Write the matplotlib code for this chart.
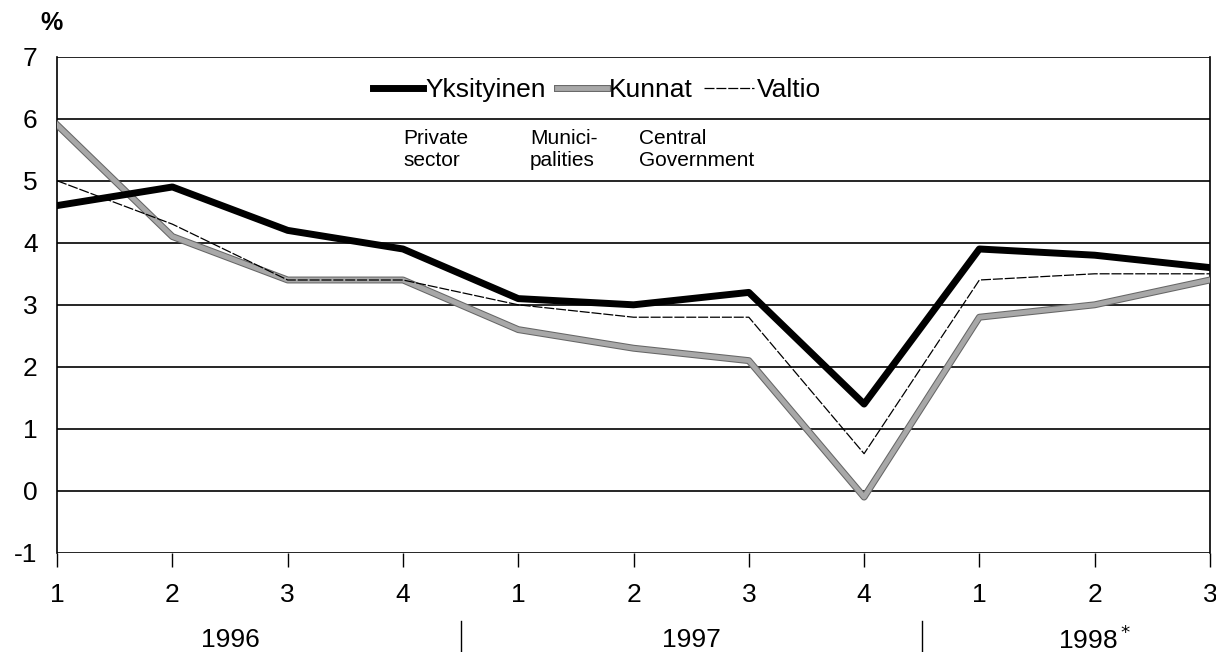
import matplotlib.pyplot as plt
import matplotlib.patheffects as pe

plt.rcParams['font.family'] = ['Liberation Sans', 'DejaVu Sans']

quarters = ['1', '2', '3', '4', '1', '2', '3', '4', '1', '2', '3']
years = ['1996', '1997', '1998$^*$']
year_centers = [1.5, 5.5, 9]
year_breaks = [3.5, 7.5]

yksityinen = [4.6, 4.9, 4.2, 3.9, 3.1, 3.0, 3.2, 1.4, 3.9, 3.8, 3.6]
kunnat = [5.9, 4.1, 3.4, 3.4, 2.6, 2.3, 2.1, -0.1, 2.8, 3.0, 3.4]
valtio = [5.0, 4.3, 3.4, 3.4, 3.0, 2.8, 2.8, 0.6, 3.4, 3.5, 3.5]

x = list(range(len(quarters)))

fig = plt.figure(figsize=(12.16, 6.52), dpi=100)
ax = fig.add_axes([0.047, 0.152, 0.948, 0.761])

for yv in range(-1, 8):
    ax.axhline(yv, color='black', lw=1.2, zorder=1)

# gray "textured" line for municipalities
ax.plot(x, kunnat, color='#a8a8a8', lw=3.5, zorder=3, label='Kunnat',
        path_effects=[pe.Stroke(linewidth=5, foreground='#666666'), pe.Normal()])
ax.plot(x, valtio, color='black', lw=0.9, dashes=(8, 1.5), zorder=4, label='Valtio')
ax.plot(x, yksityinen, color='black', lw=5, zorder=5, label='Yksityinen')

ax.set_xlim(0, 10)
ax.set_ylim(-1, 7)
ax.set_yticks(range(-1, 8))
ax.set_yticklabels([str(v) for v in range(-1, 8)], fontsize=19)
ax.tick_params(axis='y', length=0, pad=14)
ax.set_xticks(x)
ax.set_xticklabels(quarters, fontsize=19)
ax.tick_params(axis='x', direction='out', length=10, width=1, pad=12)

for s in ['left', 'right']:
    ax.spines[s].set_linewidth(1.2)
ax.spines['top'].set_visible(False)
ax.spines['bottom'].set_visible(False)

for xc, yr in zip(year_centers, years):
    ax.text(xc, -2.4, yr, ha='center', va='center', fontsize=19, clip_on=False)
for xb in year_breaks:
    ax.plot([xb, xb], [-2.1, -2.6], color='black', lw=1, clip_on=False)

h, l = ax.get_legend_handles_labels()
order = [2, 0, 1]
ax.legend([h[i] for i in order], [l[i] for i in order], loc='upper center',
          bbox_to_anchor=(0.468, 1.005), ncol=3, frameon=False, fontsize=19,
          handlelength=1.9, handletextpad=0.1, columnspacing=0.4)

ax.text(3.0, 5.84, 'Private\nsector', fontsize=15, va='top', linespacing=1.25)
ax.text(4.1, 5.84, 'Munici-\npalities', fontsize=15, va='top', linespacing=1.25)
ax.text(5.05, 5.84, 'Central\nGovernment', fontsize=15, va='top', linespacing=1.25)

fig.text(0.033, 0.965, '%', fontsize=18, ha='left', va='center', weight='bold')

fig.savefig('out.png', dpi=100)
